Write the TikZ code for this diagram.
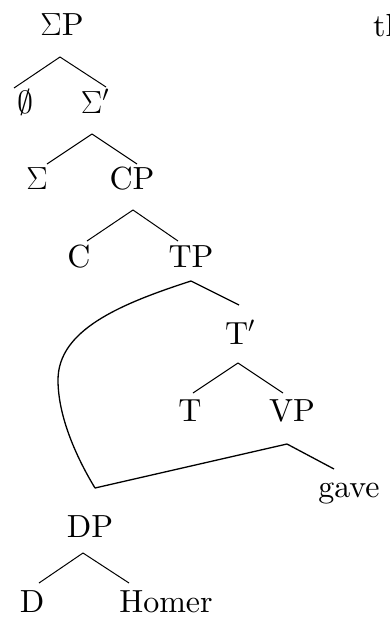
\RequirePackage{fix-cm}
\documentclass[tikz,border=0pt]{standalone}
\usepackage{fontspec}
\setmainfont{lmroman10-regular}[Extension=.otf]
\usetikzlibrary{calc}
\begin{document}
\begin{tikzpicture}[x=1pt,y=-1pt,
    lbl/.style={anchor=base,inner sep=0pt,font=\fontsize{32}{38}\selectfont},
    br/.style={line width=1pt},
    mv/.style={line width=1.3pt}]
        \useasboundingbox (0,0) rectangle (390,618);
        \node[lbl] (sp) at (62,36) {$\Sigma$P};
        \node[lbl,anchor=base west] (th) at (373,37) {th};
        \node[lbl] (phi) at (25,113) {$\emptyset$};
        \node[lbl] (sbar) at (95,113) {$\Sigma'$};
        \node[lbl] (sig) at (37,189) {$\Sigma$};
        \node[lbl] (cp) at (132,189) {CP};
        \node[lbl] (c) at (79,267) {C};
        \node[lbl] (tp) at (191,267) {TP};
        \node[lbl] (tbar) at (240,344) {T$'$};
        \node[lbl] (t) at (190,421) {T};
        \node[lbl] (vp) at (292,421) {VP};
        \node[lbl] (gave) at (349,497) {gave};
        \node[lbl] (dp) at (90,537) {DP};
        \node[lbl] (d) at (32,612) {D};
        \node[lbl] (homer) at (166,612) {Homer};
        \draw[br] ($(sp.base)+(-2,21)$) -- ($(phi.base)+(-11,-25)$);
        \draw[br] ($(sp.base)+(-2,21)$) -- ($(sbar.base)+(11,-26)$);
        \draw[br] ($(sbar.base)+(-3,21)$) -- ($(sig.base)+(10,-25)$);
        \draw[br] ($(sbar.base)+(-3,21)$) -- ($(cp.base)+(5,-25)$);
        \draw[br] ($(cp.base)+(1,21)$) -- ($(c.base)+(8,-26)$);
        \draw[br] ($(cp.base)+(1,21)$) -- ($(tp.base)+(-13,-26)$);
        \draw[mv] ($(tp.base)+(0,14)$) -- ($(tbar.base)+(-1,-39)$);
        \draw[br] ($(tbar.base)+(-2,19)$) -- ($(t.base)+(3,-28)$);
        \draw[br] ($(tbar.base)+(-2,19)$) -- ($(vp.base)+(-9,-28)$);
        \draw[mv] ($(vp.base)+(-5,23)$) -- ($(gave.base)+(-15,-28)$);
        %%% DP: TP と VP の両方から
        \draw[mv] ($(tp.base)+(0,14)$) .. controls (120,304) and (58,330) .. (58,380)
            .. controls (58,415) and (75,455) .. ($(dp.base)+(5,-49)$);
        \draw[mv] ($(vp.base)+(-5,23)$) -- ($(dp.base)+(5,-49)$);
        \draw[br] ($(dp.base)+(-7,16)$) -- ($(d.base)+(7,-29)$);
        \draw[br] ($(dp.base)+(-7,16)$) -- ($(homer.base)+(-37,-29)$);
    \end{tikzpicture}
\end{document}
